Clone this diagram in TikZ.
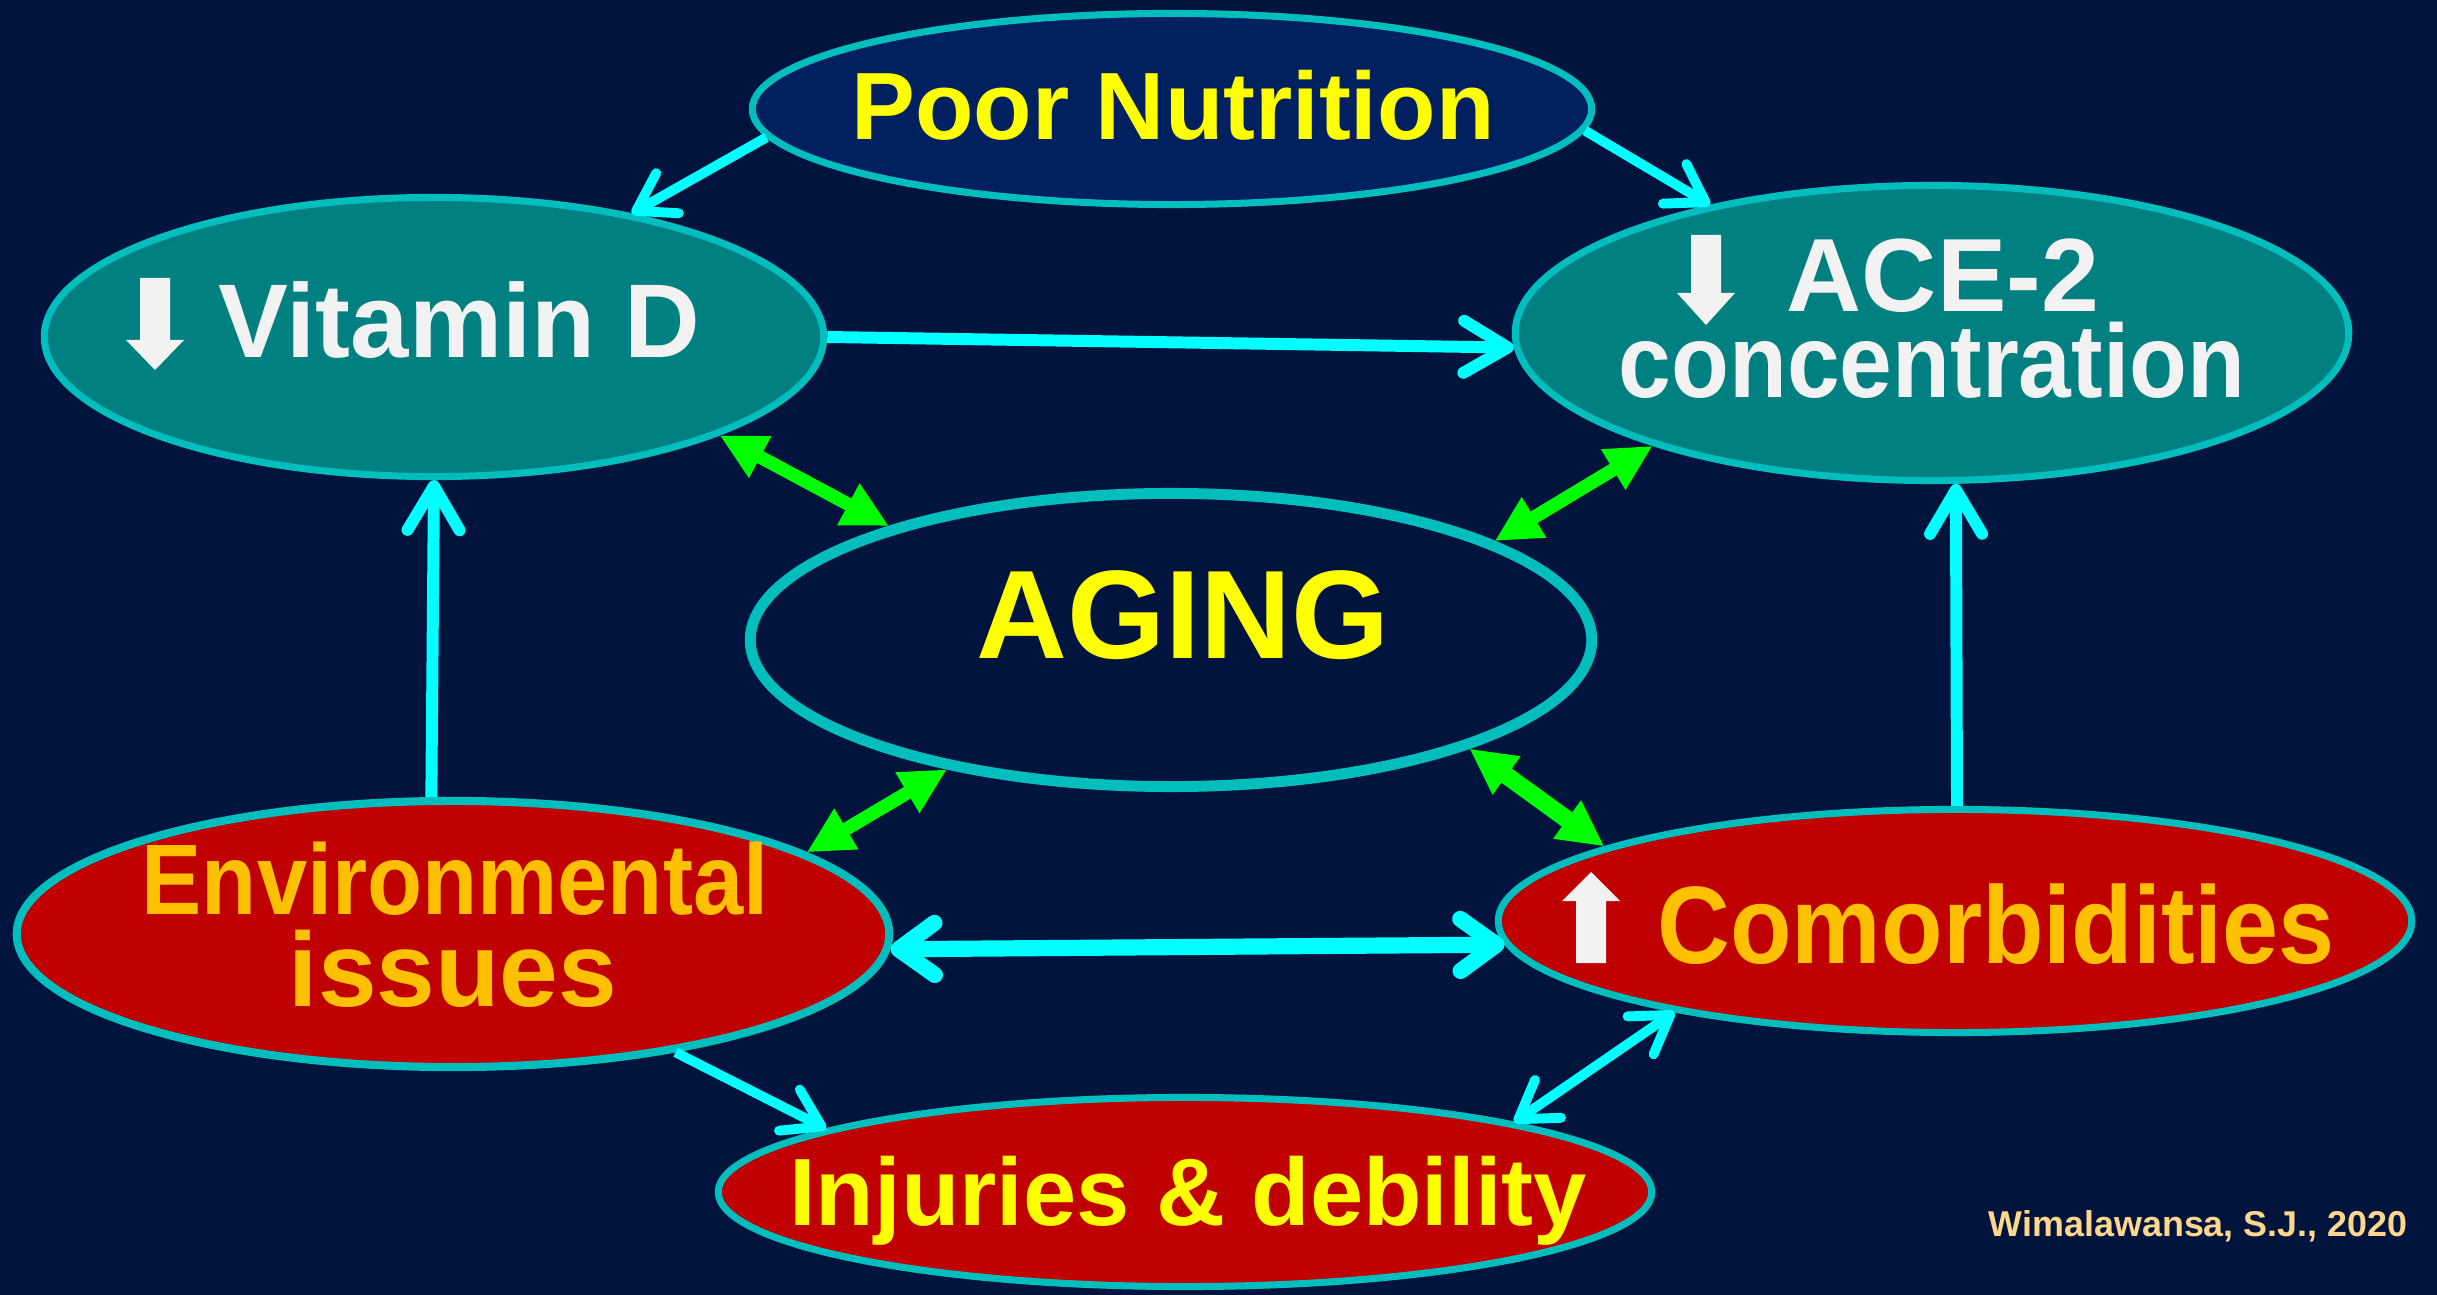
\documentclass[tikz,border=0pt]{standalone}
\usepackage{fontspec}
\setmainfont{Liberation Sans}
\usepackage{graphicx}
\usetikzlibrary{shapes.geometric, arrows.meta}
\definecolor{bgnavy}{RGB}{0,20,61}
\definecolor{nutriblue}{RGB}{0,32,96}
\definecolor{ringteal}{RGB}{0,190,190}
\definecolor{vitteal}{RGB}{0,128,128}
\definecolor{issuered}{RGB}{192,0,0}
\definecolor{linkcyan}{RGB}{0,255,255}
\definecolor{linkgreen}{RGB}{0,255,0}
\definecolor{txtyellow}{RGB}{255,255,0}
\definecolor{txtgold}{RGB}{255,192,0}
\definecolor{txtwhite}{RGB}{242,242,242}
\definecolor{credittan}{RGB}{255,215,140}
% thick up/down arrow sign: x, shaft end, head base, tip
\newcommand{\fatarrow}[4]{
  \fill[txtwhite] (#1-15,#2) -- (#1+15,#2) -- (#1+15,#3) -- (#1+29,#3) -- (#1,#4) -- (#1-29,#3) -- (#1-15,#3) -- cycle;
}
\newcommand{\fsz}[1]{\bfseries\fontsize{#1}{#1}\selectfont}

\begin{document}
\begin{tikzpicture}[
    x=0.01cm, y=-0.01cm,
    bubble/.style={ellipse, draw=ringteal, line width=2pt, inner sep=0pt},
    nutribub/.style={bubble, fill=nutriblue},
    vitbub/.style={bubble, fill=vitteal},
    redbub/.style={bubble, fill=issuered},
    agebub/.style={bubble, fill=bgnavy, line width=3.1pt},
    txt/.style={anchor=base, inner sep=0pt},
    firstline/.style={txt, text depth=0pt},
    cyanlink/.style={draw=linkcyan, line width=2.8pt, -{Straight Barb[round, length=3.6mm, width=4.6mm]}},
    cyanbold/.style={cyanlink, line width=3.4pt, -{Straight Barb[round, length=4.4mm, width=5.2mm]}},
    cyanboth/.style={draw=linkcyan, line width=4.6pt, {Straight Barb[round, length=3.6mm, width=5.2mm]}-{Straight Barb[round, length=3.6mm, width=5.2mm]}},
    greenlink/.style={draw=linkgreen, line width=3.8pt, {Triangle[length=4.6mm, width=4.4mm]}-{Triangle[length=4.6mm, width=4.4mm]}},
]
\useasboundingbox (0,0) rectangle (2437,1295);
\fill[bgnavy] (0,0) rectangle (2437,1295);

% ------------------------------------------------------------- bubbles ---
\node[nutribub, minimum width=8.39cm, minimum height=1.91cm] (pn) at (1172,109) {};
\node[vitbub, minimum width=7.79cm, minimum height=2.79cm] (vd) at (434,337) {};
\node[vitbub, minimum width=8.33cm, minimum height=2.95cm] (ace) at (1932,333) {};
\node[agebub, minimum width=8.41cm, minimum height=2.93cm] (ag) at (1171,640) {};
\node[redbub, line width=2.3pt, minimum width=8.72cm, minimum height=2.66cm] (env) at (453,934) {};
\node[redbub, minimum width=9.13cm, minimum height=2.23cm] (com) at (1955,921) {};
\node[redbub, minimum width=9.33cm, minimum height=1.89cm] (inj) at (1185,1192) {};

% ------------------------------------------------------------ cyan links ---
\draw[cyanlink] (pn.184) -- (vd.32);
\draw[cyanlink] (pn.357) -- (ace.150);
\draw[cyanbold] (vd.0) -- (ace.182);
\draw[cyanbold] (env.99) -- (vd.270);
\draw[cyanbold] (com.89) -- (ace.279);
\draw[cyanboth] (env.358) -- (com.183);
\draw[cyanlink] (env.332) -- (inj.170);
\draw[cyanlink, {Straight Barb[round, length=3.6mm, width=4.6mm]}-{Straight Barb[round, length=3.6mm, width=4.6mm]}] (inj.12) -- (com.198);

% ----------------------------------------------------------- green links ---
\draw[greenlink] (vd.341) -- (ag.158);
\draw[greenlink] (ace.202) -- (ag.17);
\draw[greenlink] (ag.210) -- (env.13);
\draw[greenlink, line width=5pt] (ag.340) -- (com.168);

% ----------------------------------------------------------------- texts ---
\node[txt, text=txtyellow, font=\fsz{27.2}] (pntext) at (1173,140) {Poor Nutrition};

\fatarrow{155}{278}{340}{370}
\node[txt, anchor=base west, text=txtwhite, font=\fsz{29.8}] (vdtext) at (218,358) {Vitamin D};

\fatarrow{1706}{235}{293}{325}
\node[firstline, anchor=base west, text=txtwhite, font=\fsz{29.6}] (acetext) at (1786,312) {ACE-2};
\node[txt, text=txtwhite, font=\fsz{29.6}] (conctext) at (1932,398) {\scalebox{0.91}[1]{concentration}};

\node[txt, text=txtyellow, font=\fsz{35.8}] (agtext) at (1183,659) {AGING};

\node[firstline, text=txtgold, font=\fsz{28.5}] (envtext) at (455,914) {\scalebox{0.9}[1]{Environmental}};
\node[txt, text=txtgold, font=\fsz{30}] (isstext) at (453,1006) {issues};

\fatarrow{1591}{963}{901}{872}
\node[txt, anchor=base west, text=txtgold, font=\fsz{31.3}] (comtext) at (1657,963) {\scalebox{0.915}[1]{Comorbidities}};

\node[txt, text=txtyellow, font=\fsz{27.2}] (injtext) at (1188,1225) {Injuries \& debility};

\node[txt, anchor=base east, text=credittan, font=\fsz{10.2}] (credit) at (2408,1236) {Wimalawansa, S.J., 2020};
\end{tikzpicture}
\end{document}
